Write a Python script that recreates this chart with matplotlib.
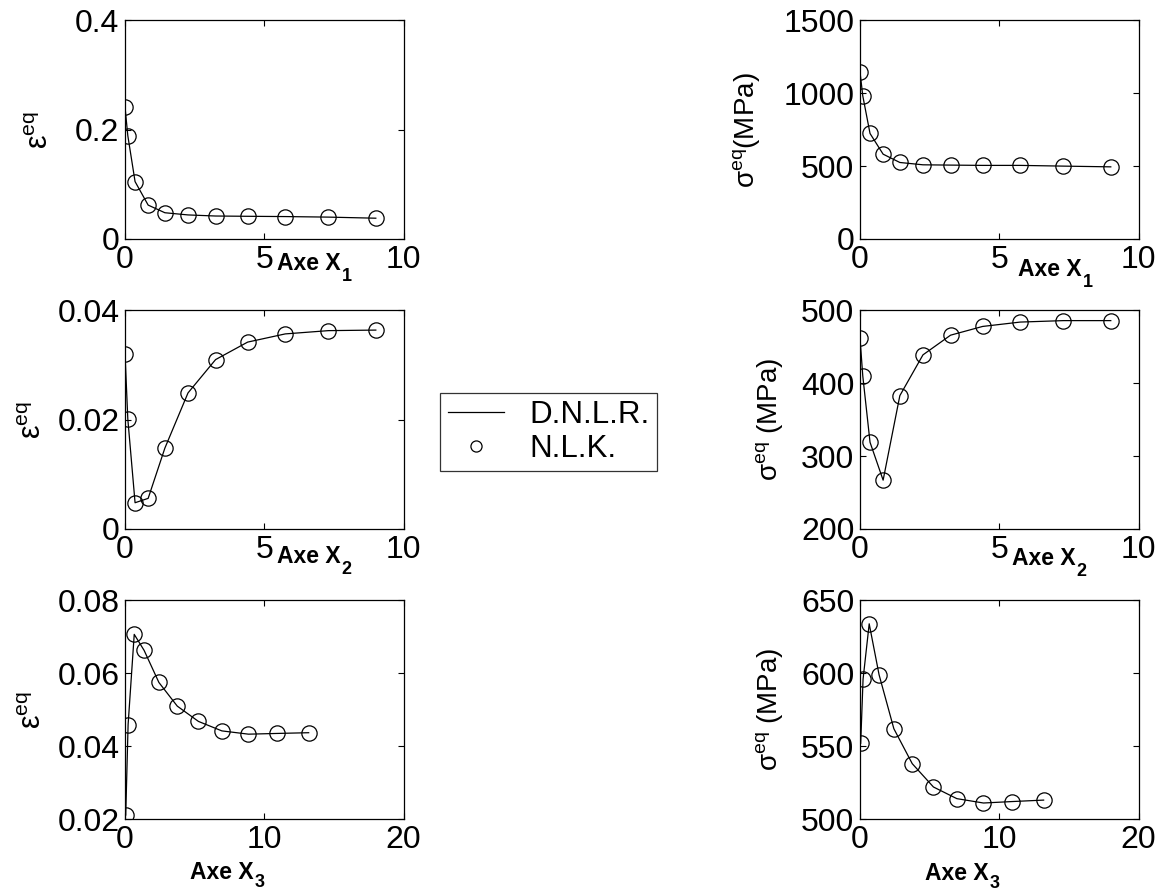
import matplotlib
matplotlib.use("Agg")
import matplotlib.pyplot as plt
from matplotlib.lines import Line2D

plt.rcParams['font.family'] = ['Liberation Sans', 'DejaVu Sans']
plt.rcParams['mathtext.fontset'] = 'custom'
plt.rcParams['mathtext.rm'] = 'Liberation Sans'
plt.rcParams['mathtext.it'] = 'Liberation Sans:italic'
plt.rcParams['mathtext.bf'] = 'Liberation Sans:bold'

# positions along X1 and X2
x12 = [0.0, 0.1, 0.36, 0.83, 1.43, 2.26, 3.25, 4.4, 5.75, 7.3, 9.0]
# positions along X3
x3 = [0.05, 0.22, 0.66, 1.37, 2.43, 3.75, 5.27, 6.95, 8.86, 10.92, 13.18]

eps_x1 = [0.241, 0.189, 0.105, 0.062, 0.048, 0.044, 0.042, 0.0415, 0.041, 0.040, 0.038]
eps_x2 = [0.0320, 0.0201, 0.0048, 0.0056, 0.0148, 0.0249, 0.0310, 0.0342, 0.0357, 0.0363, 0.0364]
eps_x3 = [0.0211, 0.0459, 0.0707, 0.0663, 0.0575, 0.0510, 0.0468, 0.0442, 0.0433, 0.0435, 0.0437]

sig_x1 = [1146, 982, 724, 582, 525, 509, 507, 505, 505, 500, 495]
sig_x2 = [462, 410, 319, 267, 383, 439, 466, 478, 484, 486, 486]
sig_x3 = [552, 596, 634, 599, 562, 538, 522, 514, 511, 512, 513]

fig = plt.figure(figsize=(11.62, 8.92), dpi=100)
renderer = fig.canvas.get_renderer()

left_x, right_x, w = 0.1076, 0.7401, 0.2398
rows = [0.7321, 0.4070, 0.0818]
h = 0.2450


def axe_label(x, y, sub, drop):
    # "Axe X" with a low subscript, like the original export
    t = fig.text(x, y, 'Axe X', fontsize=16.5, fontweight='bold',
                 va='baseline', ha='left')
    bb = t.get_window_extent(renderer)
    fig.text(bb.x1 / fig.bbox.width + 0.001, y - drop / fig.bbox.height, sub,
             fontsize=13, fontweight='bold', va='baseline', ha='left')


def panel(pos, x, y, xlim, ylim, xticks, yticks, ylabel, ylab_size, ylab_x,
          sub, xlab_pos, drop=11.0):
    ax = fig.add_axes([pos[0], pos[1], w, h])
    ax.plot(x, y, color='black', lw=0.9)
    ax.plot(x, y, 'o', mfc='none', mec='black', ms=11, mew=0.9)
    ax.set_xlim(xlim)
    ax.set_ylim(ylim)
    ax.set_xticks(xticks)
    ax.set_yticks(yticks)
    ax.set_yticklabels([('%g' % v) for v in yticks])
    ax.tick_params(direction='in', top=True, right=True, length=4,
                   width=0.8, labelsize=23, pad=4)
    for s in ax.spines.values():
        s.set_linewidth(0.9)
    ax.set_ylabel(ylabel, fontsize=ylab_size)
    ax.yaxis.set_label_coords(ylab_x, 0.5)
    axe_label(xlab_pos[0], xlab_pos[1], sub, drop)
    return ax


panel((left_x, rows[0]), x12, eps_x1, (0, 10), (0, 0.4), [0, 5, 10], [0, 0.2, 0.4],
      'ε$^{\\mathrm{eq}}$', 22, -0.25, '1', (0.2384, 0.697))
panel((right_x, rows[0]), x12, sig_x1, (0, 10), (0, 1500), [0, 5, 10], [0, 500, 1000, 1500],
      'σ$^{\\mathrm{eq}}$(MPa)', 20, -0.35, '1', (0.876, 0.6905))
panel((left_x, rows[1]), x12, eps_x2, (0, 10), (0, 0.04), [0, 5, 10], [0, 0.02, 0.04],
      'ε$^{\\mathrm{eq}}$', 22, -0.275, '2', (0.2384, 0.3688))
panel((right_x, rows[1]), x12, sig_x2, (0, 10), (200, 500), [0, 5, 10], [200, 300, 400, 500],
      'σ$^{\\mathrm{eq}}$ (MPa)', 20, -0.27, '2', (0.8709, 0.3666))
panel((left_x, rows[2]), x3, eps_x3, (0, 20), (0.02, 0.08), [0, 10, 20], [0.02, 0.04, 0.06, 0.08],
      'ε$^{\\mathrm{eq}}$', 22, -0.275, '3', (0.1635, 0.0145), drop=8.0)
panel((right_x, rows[2]), x3, sig_x3, (0, 20), (500, 650), [0, 10, 20], [500, 550, 600, 650],
      'σ$^{\\mathrm{eq}}$ (MPa)', 20, -0.27, '3', (0.796, 0.0135), drop=8.0)

handles = [Line2D([], [], color='black', lw=0.9),
           Line2D([], [], ls='none', marker='o', mfc='none', mec='black', ms=8, mew=0.9)]
leg = fig.legend(handles, ['D.N.L.R.', 'N.L.K.'], loc='center',
                 bbox_to_anchor=(0.472, 0.5157), fontsize=22.5, frameon=True,
                 fancybox=False, edgecolor='black', handlelength=1.8,
                 handletextpad=0.8, labelspacing=0.1, borderpad=0.25,
                 borderaxespad=0)
leg.get_frame().set_linewidth(0.9)

fig.savefig('out.png', dpi=100)
